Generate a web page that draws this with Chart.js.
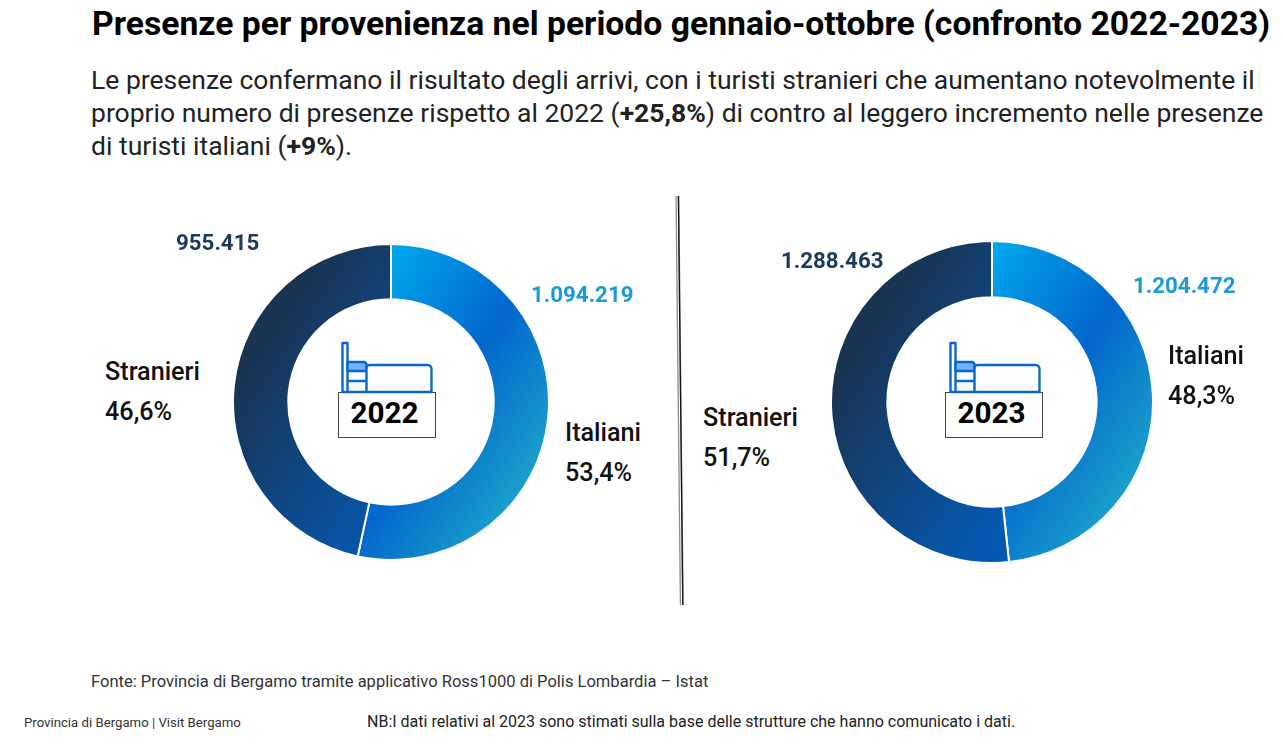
<!DOCTYPE html>
<html lang="it">
<head>
<meta charset="utf-8">
<title>Presenze per provenienza</title>
<script src="https://cdn.jsdelivr.net/npm/chart.js@4/dist/chart.umd.min.js"></script>
<style>
  html, body { margin: 0; padding: 0; background: #fff; }
  body { position: relative; width: 1283px; height: 747px; overflow: hidden; font-family: "Roboto", sans-serif; color: #111; }
  .t { position: absolute; white-space: nowrap; }
  canvas { position: absolute; }
  #title { left: 92px; top: 5px; font-size: 33.7px; line-height: 38px; font-weight: 700; color: #000; }
  #intro { left: 91px; top: 63px; font-size: 26.5px; line-height: 33px; color: #222; }
  .val { font-size: 22.3px; font-weight: 700; line-height: 26px; }
  .dark { color: #1b3a5c; }
  .light { color: #1a9ad6; }
  .cat { font-size: 25.2px; line-height: 40px; font-weight: 500; color: #111; }
  #divider { position: absolute; left: 670px; top: 190px; }
  .yearbox { position: absolute; width: 98px; height: 46px; top: 392px; box-sizing: border-box; border: 1px solid #444; background: #fff; padding-right: 5px; text-align: center; font-size: 29.7px; line-height: 40px; font-weight: 700; color: #000; }
  .bed { position: absolute; top: 341px; }
  #fonte { left: 91px; top: 672px; font-size: 16.55px; line-height: 20px; color: #333; }
  #prov { left: 24px; top: 714px; font-size: 13.2px; line-height: 18px; color: #333; }
  #nb { left: 367px; top: 712px; font-size: 16px; line-height: 20px; color: #222; }
</style>
</head>
<body>
<svg width="0" height="0" style="position:absolute">
  <defs>
    <g id="bedIcon" fill="none" stroke="#0a66cc" stroke-width="2.4" stroke-linejoin="round">
      <rect x="2.5" y="2" width="5" height="49" fill="#fff"/>
      <path d="M7.5 21h16a3 3 0 0 1 3 3v6H7.5z" fill="#6db1ff"/>
      <path d="M7.5 40h19M7.5 51h19"/>
      <path d="M26.5 51V27a3 3 0 0 1 3-3h58a4 4 0 0 1 4 4v23z" fill="#fff"/>
    </g>
  </defs>
</svg>
<div class="t" id="title">Presenze per provenienza nel periodo gennaio-ottobre (confronto 2022-2023)</div>
<div class="t" id="intro">Le presenze confermano il risultato degli arrivi, con i turisti stranieri che aumentano notevolmente il<br>proprio numero di presenze rispetto al 2022 (<b>+25,8%</b>) di contro al leggero incremento nelle presenze<br>di turisti italiani (<b>+9%</b>).</div>

<canvas id="chart2022" style="left:232px;top:243px"></canvas>
<canvas id="chart2023" style="left:830px;top:240px"></canvas>
<svg id="divider" width="24" height="420">
  <line x1="7.4" y1="6" x2="11.8" y2="415" stroke="#8a8a8a" stroke-width="4"/>
  <line x1="7.2" y1="6" x2="11.6" y2="415" stroke="#fff" stroke-width="1"/>
  <line x1="8.4" y1="6" x2="12.8" y2="415" stroke="#111" stroke-width="1.2"/>
</svg>

<div class="yearbox" id="box2022" style="left:338px"></div>
<div class="yearbox" id="box2023" style="left:945px"></div>
<svg class="bed" style="left:340px" width="94" height="54" viewBox="0 0 94 54"><use href="#bedIcon"/></svg>
<svg class="bed" style="left:948px" width="94" height="54" viewBox="0 0 94 54"><use href="#bedIcon"/></svg>

<div class="t val dark" id="v22b" style="left:176px;top:229px"></div>
<div class="t val light" id="v22a" style="left:531px;top:281px"></div>
<div class="t cat" id="c22b" style="left:105px;top:352px"></div>
<div class="t cat" id="c22a" style="left:565px;top:413px"></div>
<div class="t val dark" id="v23b" style="left:781px;top:247px"></div>
<div class="t val light" id="v23a" style="left:1133px;top:272px"></div>
<div class="t cat" id="c23b" style="left:703px;top:398px"></div>
<div class="t cat" id="c23a" style="left:1168px;top:336px"></div>

<div class="t" id="fonte">Fonte: Provincia di Bergamo tramite applicativo Ross1000 di Polis Lombardia – Istat</div>
<div class="t" id="prov">Provincia di Bergamo | Visit Bergamo</div>
<div class="t" id="nb">NB:I dati relativi al 2023 sono stimati sulla base delle strutture che hanno comunicato i dati.</div>

<script>
const categories = ["Italiani", "Stranieri"];
const values2022 = [1094219, 955415];
const values2023 = [1204472, 1288463];
const labels2022 = ["1.094.219", "955.415"];
const labels2023 = ["1.204.472", "1.288.463"];
const shares2022 = ["53,4%", "46,6%"];
const shares2023 = ["48,3%", "51,7%"];

// each slice has its own diagonal gradient, measured along the same direction
function sliceGradient(c) {
  const chart = c.chart;
  const r = chart.width / 2;
  const dx = 0.836, dy = 0.549;
  const line = (a, b) => chart.ctx.createLinearGradient(r + a * r * dx, r + a * r * dy, r + b * r * dx, r + b * r * dy);
  if (c.dataIndex === 0) {
    const g = line(-0.53, 1.09);
    g.addColorStop(0, "#00a8ec");
    g.addColorStop(0.51, "#0366cc");
    g.addColorStop(1, "#1ca8cb");
    return g;
  }
  const g = line(-0.92, 0.42);
  g.addColorStop(0, "#1a3350");
  g.addColorStop(1, "#0558b0");
  return g;
}

function makeDonut(id, size, values) {
  const canvas = document.getElementById(id);
  canvas.width = size;
  canvas.height = size;
  return new Chart(canvas, {
    type: "doughnut",
    data: {
      labels: categories,
      datasets: [{
        data: values,
        backgroundColor: sliceGradient,
        borderColor: "#fff",
        borderWidth: 2,
      }],
    },
    options: {
      responsive: false,
      animation: false,
      cutout: "65%",
      plugins: { legend: { display: false }, tooltip: { enabled: false } },
    },
  });
}

makeDonut("chart2022", 318, values2022);
makeDonut("chart2023", 324, values2023);

document.getElementById("box2022").textContent = "2022";
document.getElementById("box2023").textContent = "2023";
document.getElementById("v22a").textContent = labels2022[0];
document.getElementById("v22b").textContent = labels2022[1];
document.getElementById("v23a").textContent = labels2023[0];
document.getElementById("v23b").textContent = labels2023[1];
document.getElementById("c22a").innerHTML = categories[0] + "<br>" + shares2022[0];
document.getElementById("c22b").innerHTML = categories[1] + "<br>" + shares2022[1];
document.getElementById("c23a").innerHTML = categories[0] + "<br>" + shares2023[0];
document.getElementById("c23b").innerHTML = categories[1] + "<br>" + shares2023[1];
</script>
</body>
</html>
